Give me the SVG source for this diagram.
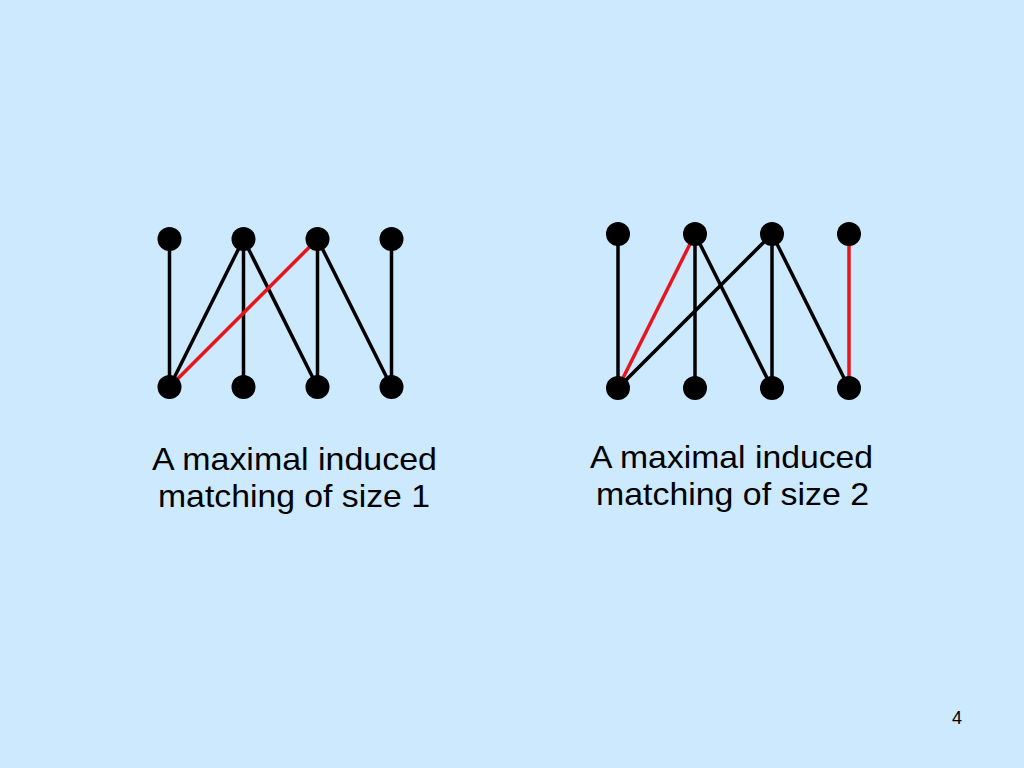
<svg xmlns="http://www.w3.org/2000/svg" width="1024" height="768" viewBox="0 0 1024 768">
<style>
.e{stroke:#000;stroke-width:3.5;fill:none}
.r{stroke:#e8141b;stroke-width:3.5;fill:none}
.n{fill:#000}
.t{font-family:"Liberation Sans",Arial,sans-serif;font-size:32px;fill:#000;text-anchor:middle}
</style>
<rect width="1024" height="768" fill="#cce9fe"/>
<g id="connectors">
<line class="e" x1="169.5" y1="239" x2="169.5" y2="387"/>
<line class="e" x1="169.5" y1="387" x2="243.5" y2="239"/>
<line class="e" x1="243.5" y1="239" x2="243.5" y2="387"/>
<line class="e" x1="243.5" y1="239" x2="317.5" y2="387"/>
<line class="e" x1="317.5" y1="239" x2="317.5" y2="387"/>
<line class="e" x1="317.5" y1="239" x2="391.5" y2="387"/>
<line class="e" x1="391.5" y1="239" x2="391.5" y2="387"/>
<line class="r" x1="169.5" y1="387" x2="317.5" y2="239"/>
<line class="e" x1="618" y1="234" x2="618" y2="388"/>
<line class="e" x1="695" y1="234" x2="695" y2="388"/>
<line class="e" x1="695" y1="234" x2="772" y2="388"/>
<line class="e" x1="618" y1="388" x2="772" y2="234"/>
<line class="e" x1="772" y1="234" x2="772" y2="388"/>
<line class="e" x1="772" y1="234" x2="849" y2="388"/>
<line class="r" x1="618" y1="388" x2="695" y2="234"/>
<line class="r" x1="849" y1="234" x2="849" y2="388"/>
</g>
<g id="left-top-1"><circle class="n" cx="169.5" cy="239" r="12"/></g>
<g id="left-top-2"><circle class="n" cx="243.5" cy="239" r="12"/></g>
<g id="left-top-3"><circle class="n" cx="317.5" cy="239" r="12"/></g>
<g id="left-top-4"><circle class="n" cx="391.5" cy="239" r="12"/></g>
<g id="left-bot-1"><circle class="n" cx="169.5" cy="387" r="12"/></g>
<g id="left-bot-2"><circle class="n" cx="243.5" cy="387" r="12"/></g>
<g id="left-bot-3"><circle class="n" cx="317.5" cy="387" r="12"/></g>
<g id="left-bot-4"><circle class="n" cx="391.5" cy="387" r="12"/></g>
<g id="right-top-1"><circle class="n" cx="618" cy="234" r="12"/></g>
<g id="right-top-2"><circle class="n" cx="695" cy="234" r="12"/></g>
<g id="right-top-3"><circle class="n" cx="772" cy="234" r="12"/></g>
<g id="right-top-4"><circle class="n" cx="849" cy="234" r="12"/></g>
<g id="right-bot-1"><circle class="n" cx="618" cy="388" r="12"/></g>
<g id="right-bot-2"><circle class="n" cx="695" cy="388" r="12"/></g>
<g id="right-bot-3"><circle class="n" cx="772" cy="388" r="12"/></g>
<g id="right-bot-4"><circle class="n" cx="849" cy="388" r="12"/></g>
<g id="label-left">
<text class="t" x="294.5" y="470" textLength="285" lengthAdjust="spacingAndGlyphs">A maximal induced</text>
<text class="t" x="294" y="506.5" textLength="272" lengthAdjust="spacingAndGlyphs">matching of size 1</text>
</g>
<g id="label-right">
<text class="t" x="731.5" y="468" textLength="283" lengthAdjust="spacingAndGlyphs">A maximal induced</text>
<text class="t" x="732.5" y="505" textLength="273" lengthAdjust="spacingAndGlyphs">matching of size 2</text>
</g>
<text x="957" y="724" style="font-family:'Liberation Sans',Arial,sans-serif;font-size:18px;fill:#000;text-anchor:middle">4</text>
</svg>
